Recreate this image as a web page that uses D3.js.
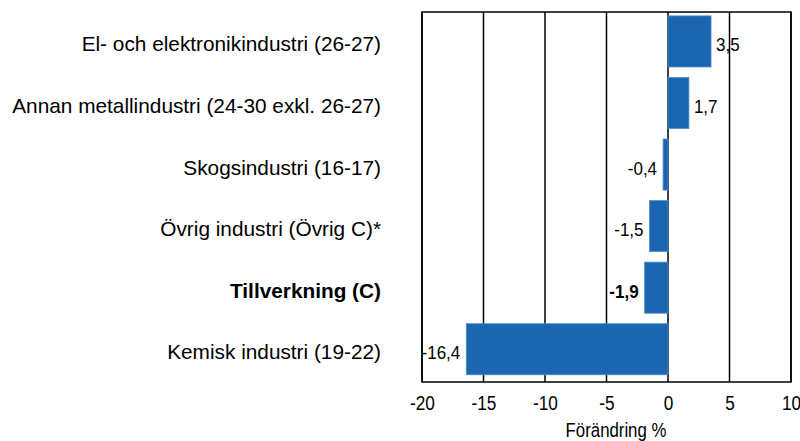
<!DOCTYPE html>
<html>
<head>
<meta charset="utf-8">
<script src="https://cdn.jsdelivr.net/npm/d3@7"></script>
<style>
  body { margin: 0; background: #fff; }
  svg { font-family: "Liberation Sans", Arial, sans-serif; }
</style>
</head>
<body>
<div id="chart"></div>
<script>
// data
const categories = [
  'El- och elektronikindustri (26-27)',
  'Annan metallindustri (24-30 exkl. 26-27)',
  'Skogsindustri (16-17)',
  'Övrig industri (Övrig C)*',
  'Tillverkning (C)',
  'Kemisk industri (19-22)'
];
const values = [3.5, 1.7, -0.4, -1.5, -1.9, -16.4];
const boldCategory = 'Tillverkning (C)';
const tickValues = [-20, -15, -10, -5, 0, 5, 10];
const axisTitle = 'Förändring %';

const CONFIG = {
  width: 800,
  height: 441,
  left: 422,
  right: 791,
  top: 12,
  bottom: 382,
  barFill: '#1c66b0',
  barStroke: '#4d8fcf'
};

const fmt = v => String(v).replace('.', ',');

const rows = categories.map((c, i) => ({ name: c, value: values[i] }));

const svg = d3.select('#chart').append('svg')
  .attr('width', CONFIG.width)
  .attr('height', CONFIG.height);

const x = d3.scaleLinear()
  .domain([-20, 10])
  .range([CONFIG.left, CONFIG.right]);

const y = d3.scaleBand()
  .domain(categories)
  .range([CONFIG.top, CONFIG.bottom])
  .paddingInner(0.17)
  .paddingOuter(0.09)
  .align(0.35);

const mid = d => y(d.name) + y.bandwidth() / 2;

// gridlines at every tick
svg.append('g')
  .attr('class', 'grid')
  .selectAll('line')
  .data(tickValues)
  .join('line')
  .attr('x1', d => x(d))
  .attr('x2', d => x(d))
  .attr('y1', CONFIG.top)
  .attr('y2', CONFIG.bottom)
  .attr('stroke', '#000')
  .attr('stroke-width', 1.5);

// bars
svg.append('g')
  .attr('class', 'bars')
  .selectAll('rect')
  .data(rows)
  .join('rect')
  .attr('x', d => x(Math.min(0, d.value)))
  .attr('y', d => y(d.name))
  .attr('width', d => Math.abs(x(d.value) - x(0)))
  .attr('height', y.bandwidth())
  .attr('fill', CONFIG.barFill)
  .attr('stroke', CONFIG.barStroke)
  .attr('stroke-width', 0.8);

// plot frame
svg.append('rect')
  .attr('x', CONFIG.left)
  .attr('y', CONFIG.top)
  .attr('width', CONFIG.right - CONFIG.left)
  .attr('height', CONFIG.bottom - CONFIG.top)
  .attr('fill', 'none')
  .attr('stroke', '#000')
  .attr('stroke-width', 1.5);

// value labels (glyphs in the original are a bit narrow, hence the x-scale)
svg.append('g')
  .attr('class', 'values')
  .selectAll('text')
  .data(rows)
  .join('text')
  .attr('transform', d => {
    const tx = d.value >= 0 ? x(d.value) + 5 : x(d.value) - 6;
    return `translate(${tx},${mid(d) + 10}) scale(0.92,1)`;
  })
  .attr('text-anchor', d => d.value >= 0 ? 'start' : 'end')
  .attr('font-size', 18.5)
  .attr('font-weight', d => d.name === boldCategory ? 'bold' : 'normal')
  .attr('fill', '#000')
  .text(d => fmt(d.value));

// category labels
svg.append('g')
  .attr('class', 'categories')
  .selectAll('text')
  .data(rows)
  .join('text')
  .attr('x', 381)
  .attr('y', d => mid(d) + 10)
  .attr('text-anchor', 'end')
  .attr('font-size', 20.8)
  .attr('font-weight', d => d.name === boldCategory ? 'bold' : 'normal')
  .attr('fill', '#000')
  .text(d => d.name);

// x axis tick labels
const xAxis = d3.axisBottom(x)
  .tickValues(tickValues)
  .tickSize(0)
  .tickPadding(0)
  .tickFormat(d => fmt(d));

svg.append('g')
  .attr('transform', `translate(0,${CONFIG.bottom})`)
  .call(xAxis)
  .call(g => g.select('.domain').remove())
  .call(g => g.selectAll('text')
    .attr('dy', null)
    .attr('y', null)
    .attr('transform', 'translate(0,28) scale(0.84,1)')
    .attr('font-size', 20.5)
    .attr('font-family', null)
    .attr('fill', '#000'));

svg.append('text')
  .attr('transform', 'translate(616,437) scale(0.8,1)')
  .attr('text-anchor', 'middle')
  .attr('font-size', 21)
  .attr('fill', '#000')
  .text(axisTitle);
</script>
</body>
</html>
